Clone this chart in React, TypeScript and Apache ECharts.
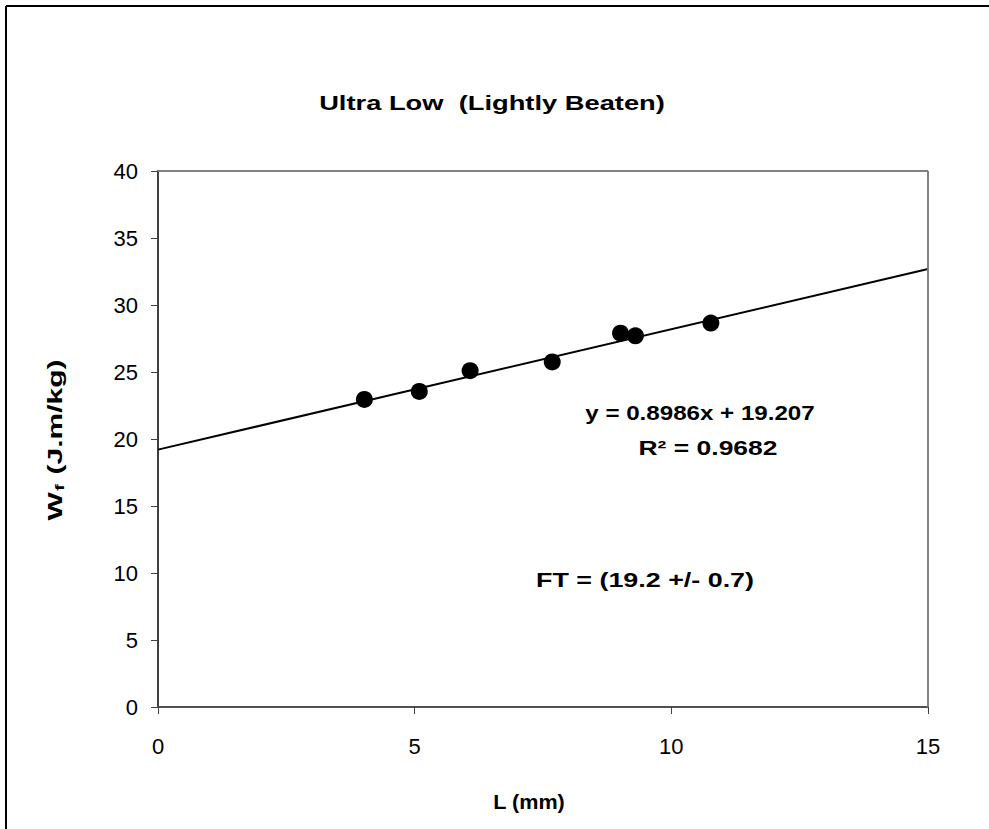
import React, { useEffect, useRef } from "react";
import * as echarts from "echarts";

// Fibre length (mm) against work of fracture (J.m/kg)
const lengthMm: number[] = [4.02, 5.09, 6.08, 7.68, 9.01, 9.3, 10.77];
const workOfFracture: number[] = [22.95, 23.55, 25.1, 25.75, 27.9, 27.7, 28.65];

// Least-squares trend line as reported
const slope = 0.8986;
const intercept = 19.207;
const trendX: number[] = [0, 15];

const xTicks = { min: 0, max: 15, interval: 5 };
const yTicks = { min: 0, max: 40, interval: 5 };

const titleText = "Ultra Low  (Lightly Beaten)";
const equationText = "y = 0.8986x + 19.207";
const rSquaredText = "R² = 0.9682";
const ftText = "FT = (19.2 +/- 0.7)";
const xName = "L (mm)";

const FONT = "'Liberation Sans', Arial, sans-serif";

const boldText = (x: number, y: number, text: string, size: number, stretch: number) => ({
  type: "text",
  x,
  y,
  scaleX: stretch,
  style: {
    text,
    fontSize: size,
    fontWeight: "bold",
    fontFamily: FONT,
    fill: "#000",
    align: "center",
    verticalAlign: "middle",
  },
  silent: true,
});

const frameLine = (x1: number, y1: number, x2: number, y2: number, color: string) => ({
  type: "line",
  shape: { x1, y1, x2, y2 },
  style: { stroke: color, lineWidth: 2 },
  z: 10,
  silent: true,
});

export default function App() {
  const ref = useRef<HTMLDivElement>(null);

  useEffect(() => {
    document.body.style.margin = "0";
    if (!ref.current) return;
    const chart = echarts.init(ref.current, undefined, { renderer: "svg" });

    const trendData = trendX.map((x) => [x, slope * x + intercept]);

    chart.setOption({
      animation: false,
      backgroundColor: "#ffffff",
      textStyle: { fontFamily: FONT },
      grid: { left: 158, top: 171, right: 61, bottom: 122, show: false },
      xAxis: {
        type: "value",
        min: xTicks.min,
        max: xTicks.max,
        interval: xTicks.interval,
        axisLine: { show: true, onZero: false, lineStyle: { color: "#505050", width: 2 } },
        axisTick: { show: true, inside: false, length: 7, lineStyle: { color: "#404040" } },
        axisLabel: { color: "#000", fontSize: 22, margin: 28, fontFamily: FONT },
        splitLine: { show: false },
      },
      yAxis: {
        type: "value",
        min: yTicks.min,
        max: yTicks.max,
        interval: yTicks.interval,
        axisLine: { show: true, onZero: false, lineStyle: { color: "#404040", width: 2 } },
        axisTick: { show: true, inside: false, length: 7, lineStyle: { color: "#404040" } },
        axisLabel: { color: "#000", fontSize: 22, margin: 20, fontFamily: FONT },
        splitLine: { show: false },
      },
      series: [
        {
          type: "line",
          data: trendData,
          symbol: "none",
          lineStyle: { color: "#000", width: 2 },
          z: 2,
        },
        {
          type: "scatter",
          data: lengthMm.map((x, i) => [x, workOfFracture[i]]),
          symbol: "circle",
          symbolSize: 17,
          itemStyle: { color: "#000", opacity: 1 },
          z: 3,
        },
      ],
      graphic: {
        elements: [
          // outer chart frame (left and top edges)
          frameLine(6, 6, 989, 6, "#000"),
          frameLine(6, 6, 6, 829, "#000"),
          // plot area top / right edges
          frameLine(158, 171, 928, 171, "#808080"),
          frameLine(928, 171, 928, 707, "#808080"),
          boldText(492, 103, titleText, 21, 1.3),
          boldText(700, 413, equationText, 21, 1.15),
          boldText(708, 448, rSquaredText, 21, 1.26),
          boldText(645, 580, ftText, 21, 1.28),
          boldText(529, 802, xName, 20, 1.08),
          {
            type: "text",
            x: 55,
            y: 440,
            rotation: Math.PI / 2,
            scaleX: 1.5,
            silent: true,
            style: {
              text: "{b|W}{s|f}{b| (J.m/kg)}",
              align: "center",
              verticalAlign: "middle",
              rich: {
                b: { fontSize: 20, fontWeight: "bold", fontFamily: FONT, fill: "#000", verticalAlign: "middle" },
                s: { fontSize: 13, fontWeight: "bold", fontFamily: FONT, fill: "#000", verticalAlign: "bottom", padding: [9, 1, 0, 1] },
              },
            },
          },
        ],
      },
    });

    return () => chart.dispose();
  }, []);

  return <div ref={ref} style={{ width: 989, height: 829 }} />;
}
